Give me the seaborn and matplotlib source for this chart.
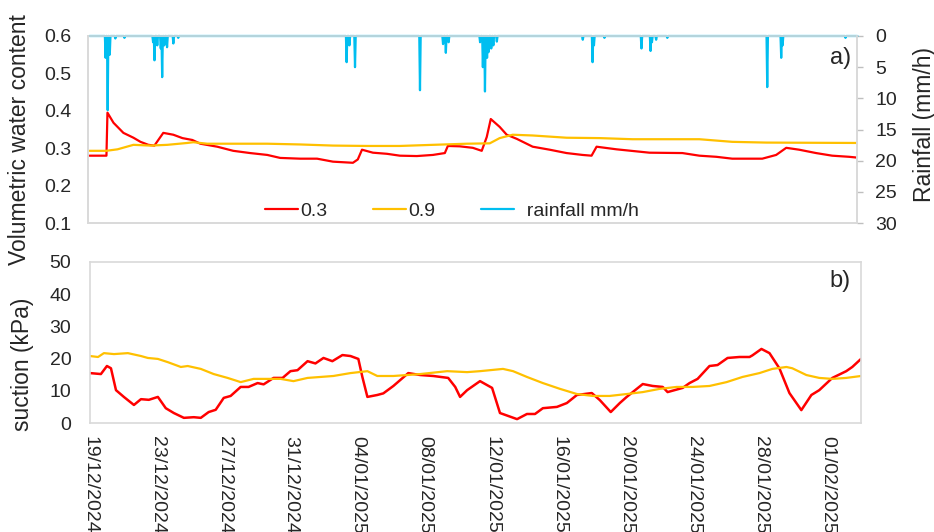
import numpy as np
import pandas as pd
import matplotlib
matplotlib.use("Agg")
import matplotlib.pyplot as plt
import matplotlib.dates as mdates
from matplotlib.lines import Line2D
from matplotlib.ticker import FormatStrFormatter
import seaborn as sns

# ---------------- data (days after 19/12/2024 00:00) ----------------
start = pd.Timestamp("2024-12-19 00:00")

vwc03_days = [0.0, 1.01, 1.07, 1.43, 2.02, 2.62, 3.04, 3.51, 3.87, 4.40, 5.0, 5.54, 6.13, 6.61,
              7.62, 8.57, 9.58, 10.6, 11.37, 12.56, 13.57, 14.52, 15.71, 16.0, 16.25, 16.9,
              17.74, 18.51, 19.52, 20.48, 21.19, 21.37, 22.08, 22.86, 23.39, 23.69, 23.93,
              24.46, 24.88, 25.48, 26.43, 27.44, 28.45, 29.40, 29.94, 30.24, 31.43, 33.39,
              35.36, 36.37, 37.38, 38.33, 40.12, 40.95, 41.55, 42.32, 43.33, 44.29, 45.3, 45.75]
vwc03 = [0.280, 0.280, 0.395, 0.368, 0.341, 0.328, 0.317, 0.309, 0.307, 0.341, 0.336, 0.327,
         0.322, 0.312, 0.304, 0.293, 0.287, 0.282, 0.274, 0.272, 0.272, 0.264, 0.261, 0.270,
         0.296, 0.288, 0.285, 0.280, 0.279, 0.282, 0.287, 0.306, 0.305, 0.301, 0.293, 0.330,
         0.378, 0.357, 0.336, 0.325, 0.304, 0.296, 0.287, 0.282, 0.280, 0.304, 0.297, 0.288,
         0.287, 0.280, 0.277, 0.272, 0.272, 0.282, 0.301, 0.296, 0.287, 0.280, 0.277, 0.275]

vwc09_days = [0.0, 1.0, 1.67, 2.62, 3.63, 4.64, 5.83, 6.19, 7.02, 10.6, 12.56, 14.52, 16.55,
              18.51, 20.48, 22.5, 23.87, 24.46, 25.24, 26.43, 28.45, 30.42, 32.38, 36.37,
              38.33, 40.36, 45.75]
vwc09 = [0.293, 0.293, 0.297, 0.309, 0.307, 0.309, 0.314, 0.316, 0.312, 0.312, 0.310, 0.307,
         0.306, 0.306, 0.309, 0.312, 0.313, 0.327, 0.336, 0.334, 0.328, 0.327, 0.324, 0.324,
         0.317, 0.315, 0.314]

rain_days = [0.95, 1.07, 1.19, 1.55, 2.08, 3.80, 3.87, 4.05, 4.25, 4.35, 4.45, 4.64, 5.0, 5.3,
             15.35, 15.5, 15.85, 19.7, 21.1, 21.25, 21.4, 23.3, 23.45, 23.6, 23.7, 23.8, 23.95,
             24.1, 24.3, 29.4, 30.0, 30.1, 30.7, 32.9, 33.45, 33.55, 33.8, 34.45, 40.4, 41.25,
             41.35, 45.1]
rain_mmh = [3.5, 11.9, 3.0, 0.4, 0.3, 1.0, 3.9, 1.5, 2.0, 6.6, 1.5, 1.8, 1.2, 0.3,
            4.2, 1.5, 5.0, 8.7, 1.3, 2.7, 1.0, 1.0, 5.0, 8.9, 3.5, 2.6, 2.0,
            1.5, 0.9, 0.6, 4.2, 1.5, 0.3, 2.0, 2.4, 1.0, 0.6, 0.3, 8.2, 3.5,
            1.5, 0.3]

suc03_days = [0.0, 0.65, 1.01, 1.25, 1.55, 2.02, 2.62, 3.04, 3.51, 4.05, 4.52, 5.0, 5.6, 6.19,
              6.61, 7.08, 7.5, 7.98, 8.39, 8.99, 9.46, 10.0, 10.36, 10.95, 11.49, 11.96, 12.38,
              12.98, 13.45, 13.93, 14.46, 15.06, 15.54, 16.01, 16.25, 16.55, 17.14, 17.5, 18.1,
              18.99, 19.7, 20.48, 21.37, 21.79, 22.08, 22.5, 23.27, 23.99, 24.46, 25.48, 26.07,
              26.55, 27.02, 27.86, 28.45, 29.05, 29.94, 30.42, 31.07, 31.61, 32.02, 32.98,
              33.57, 34.17, 34.46, 35.36, 35.77, 36.25, 36.96, 37.44, 38.04, 38.75, 39.35,
              39.52, 40.06, 40.54, 41.13, 41.73, 42.44, 43.04, 43.51, 44.29, 45.12, 45.48, 46.0]
suc03 = [15.5, 15.2, 17.7, 17.0, 10.2, 8.1, 5.6, 7.4, 7.2, 8.1, 4.6, 3.1, 1.6, 1.8,
         1.6, 3.4, 4.1, 7.8, 8.4, 11.2, 11.2, 12.4, 12.0, 14.0, 14.0, 16.1, 16.4,
         19.2, 18.5, 20.2, 19.2, 21.1, 20.8, 19.9, 14.3, 8.1, 8.7, 9.2, 11.5,
         15.5, 14.9, 14.6, 14.0, 11.2, 8.1, 10.2, 13.0, 10.9, 3.1, 1.2, 2.8,
         2.8, 4.6, 5.0, 6.2, 8.7, 9.3, 7.1, 3.4, 6.2, 8.1, 12.1,
         11.5, 11.2, 9.6, 10.9, 12.4, 13.7, 17.7, 18.0, 20.2, 20.5, 20.5,
         21.0, 23.0, 21.7, 17.0, 9.3, 4.0, 8.7, 10.2, 14.0, 16.1, 17.4, 19.9]

suc09_days = [0.0, 0.48, 0.83, 1.43, 2.26, 3.04, 3.45, 4.05, 4.64, 5.42, 5.83, 6.61, 7.38,
              8.21, 8.99, 9.76, 11.37, 12.14, 12.98, 13.75, 14.52, 15.54, 16.55, 17.14,
              18.1, 18.93, 19.7, 21.31, 22.5, 23.27, 24.64, 25.24, 26.07, 27.02, 28.04,
              29.05, 30.0, 31.0, 32.02, 32.98, 33.99, 35.0, 35.95, 36.96, 37.98, 38.93,
              39.94, 40.71, 41.55, 41.9, 42.74, 43.51, 44.29, 45.12, 46.0]
suc09 = [20.8, 20.5, 21.7, 21.4, 21.7, 20.8, 20.2, 19.9, 18.9, 17.4, 17.7, 16.8, 15.2,
         14.0, 12.7, 13.7, 13.7, 13.0, 14.0, 14.3, 14.6, 15.5, 16.1, 14.6,
         14.6, 14.9, 15.2, 16.1, 15.8, 16.1, 16.8, 16.1, 14.3, 12.4, 10.6,
         9.0, 8.4, 8.4, 9.0, 9.6, 10.6, 11.2, 11.2, 11.5, 12.7, 14.3,
         15.5, 16.8, 17.4, 17.0, 14.9, 14.0, 13.7, 14.0, 14.6]

tick_dates = pd.date_range("2024-12-19", "2025-02-01", freq="4D")

# ---------------- styling ----------------
sns.set_style("white")
plt.rcParams["font.family"] = ["Liberation Sans", "DejaVu Sans"]

RED = "#FF0000"
YEL = "#FFC000"
CYAN = "#00BEF0"
GRID = "#D9D9D9"
TXT = "#262626"

W, H = 934, 532
fig = plt.figure(figsize=(W / 100, H / 100), dpi=100)


def ax_rect(l, t, r, b):
    return [l / W, 1 - b / H, (r - l) / W, (b - t) / H]


def to_time(days):
    return start + pd.to_timedelta(np.asarray(days, dtype=float), unit="D")


df03 = pd.DataFrame({"t": to_time(vwc03_days), "v": vwc03})
df09 = pd.DataFrame({"t": to_time(vwc09_days), "v": vwc09})

hours = np.arange(0, 46 * 24 + 1)
rain = np.zeros(len(hours))
for d, v in zip(rain_days, rain_mmh):
    rain[int(round(d * 24))] = v
dfr = pd.DataFrame({"t": start + pd.to_timedelta(hours, unit="h"), "r": rain})

ds03 = pd.DataFrame({"t": to_time(suc03_days), "s": suc03})
ds09 = pd.DataFrame({"t": to_time(suc09_days), "s": suc09})

# ---------------- top panel ----------------
ax1 = fig.add_axes(ax_rect(88, 36, 857, 223))
sns.lineplot(data=df03, x="t", y="v", ax=ax1, color=RED, linewidth=1.6, legend=False)
sns.lineplot(data=df09, x="t", y="v", ax=ax1, color=YEL, linewidth=1.6, legend=False)
ax1.set_ylim(0.1, 0.6)
ax1.set_yticks([0.1, 0.2, 0.3, 0.4, 0.5, 0.6])
ax1.yaxis.set_major_formatter(FormatStrFormatter("%.1f"))
ax1.set_xlim(start - pd.Timedelta(days=0.09), start + pd.Timedelta(days=45.77))
ax1.set_xticks([])
ax1.set_xlabel("")
ax1.set_ylabel("")
ax1.tick_params(axis="y", length=0, pad=12, labelsize=14, labelcolor=TXT)

ax2 = ax1.twinx()
sns.lineplot(data=dfr, x="t", y="r", ax=ax2, color=CYAN, linewidth=1.6, legend=False)
for ln in ax2.get_lines():
    ln.set_clip_on(False)
ax2.set_ylim(30, 0)
ax2.set_yticks([0, 5, 10, 15, 20, 25, 30])
ax2.set_ylabel("")
ax2.set_xlim(ax1.get_xlim())
ax2.tick_params(axis="y", length=4, width=1, color="#BFBFBF", pad=9, labelsize=14,
                labelcolor=TXT, right=True)
for a in (ax1, ax2):
    for s in a.spines.values():
        s.set_color(GRID)
        s.set_linewidth(1.2)

handles = [Line2D([], [], color=RED, lw=1.6), Line2D([], [], color=YEL, lw=1.6),
           Line2D([], [], color=CYAN, lw=1.6)]
leg = ax2.legend(handles, ["0.3", "0.9", "  rainfall mm/h"], loc="center left",
                 bbox_to_anchor=((265 - 88) / 769, (223 - 211) / 187), ncol=3,
                 frameon=False, fontsize=14, handlelength=1.7, handletextpad=0.1,
                 columnspacing=2.35, borderpad=0, borderaxespad=0)
for t in leg.get_texts():
    t.set_color(TXT)

# ---------------- bottom panel ----------------
ax3 = fig.add_axes(ax_rect(89.5, 262, 861, 423))
sns.lineplot(data=ds03, x="t", y="s", ax=ax3, color=RED, linewidth=1.8, legend=False)
sns.lineplot(data=ds09, x="t", y="s", ax=ax3, color=YEL, linewidth=1.6, legend=False)
ax3.set_ylim(0, 50)
ax3.set_yticks([0, 10, 20, 30, 40, 50])
ax3.set_xlim(start - pd.Timedelta(days=0.03), start + pd.Timedelta(days=46.0))
ax3.set_xticks(tick_dates)
ax3.set_xticklabels([d.strftime("%d/%m/%Y") for d in tick_dates], rotation=-90,
                    ha="center", va="top")
ax3.set_xlabel("")
ax3.set_ylabel("")
ax3.tick_params(axis="y", length=0, pad=13, labelsize=14, labelcolor=TXT)
ax3.tick_params(axis="x", length=0, pad=9, labelsize=14, labelcolor=TXT)
for s in ax3.spines.values():
    s.set_color(GRID)
    s.set_linewidth(1.2)

# ---------------- titles / annotations ----------------
fig.text(20 / W, 1 - 140 / H, "Volumetric water content", rotation=90, ha="center",
         va="center", fontsize=16.5, color=TXT)
fig.text(924 / W, 1 - 125 / H, "Rainfall (mm/h)", rotation=90, ha="center",
         va="center", fontsize=16.5, color=TXT)
fig.text(22 / W, 1 - 364 / H, "suction (kPa)", rotation=90, ha="center",
         va="center", fontsize=16.5, color=TXT)
fig.text(851 / W, 1 - 58 / H, "a)", ha="right", va="center", fontsize=17, color=TXT)
fig.text(851 / W, 1 - 281 / H, "b)", ha="right", va="center", fontsize=17, color=TXT)

fig.savefig("out.png", dpi=100)
